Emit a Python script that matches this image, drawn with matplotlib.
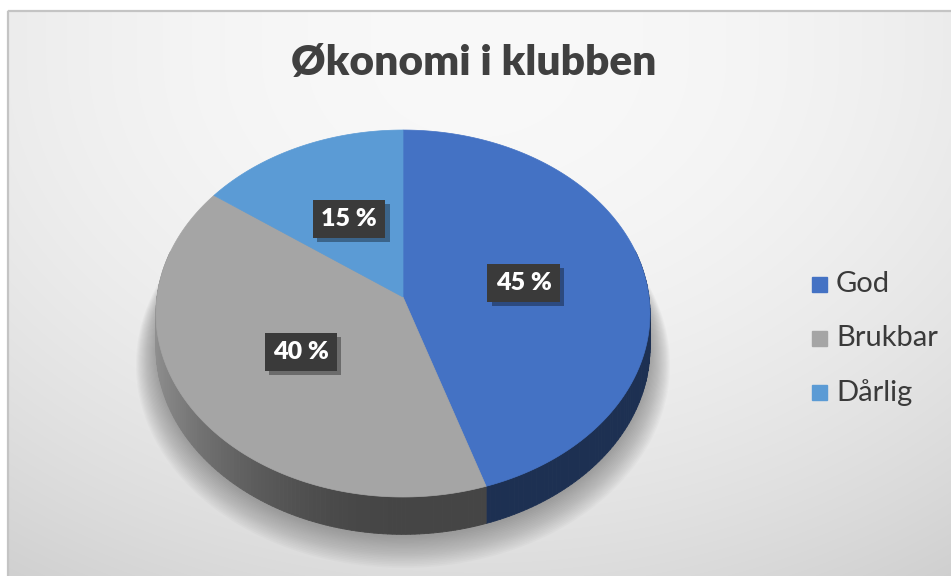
import numpy as np
import matplotlib
matplotlib.use('Agg')
import matplotlib.pyplot as plt
from matplotlib.patches import Rectangle
from matplotlib.collections import PolyCollection
import matplotlib.patheffects as pe
import matplotlib.colors as mcolors

# ---- data ----
categories = ['God', 'Brukbar', 'Dårlig']
values = [45, 40, 15]
labels = ['45 %', '40 %', '15 %']
colors = ['#4472C4', '#A5A5A5', '#5B9BD5']
title = 'Økonomi i klubben'

W, H = 951, 576
fig = plt.figure(figsize=(W / 100, H / 100), dpi=100)
ax = fig.add_axes([0, 0, 1, 1])

# ---- background gradient ----
yy, xx = np.mgrid[0:H, 0:W]
dx = (xx - 475) / 470.0
dyn = np.clip((yy - 60) / 516.0, 0, None)
val = 0.975 - 0.05 * dx ** 2 - 0.11 * dyn ** 2
img = np.dstack([val] * 3)
img[:10, :] = 1.0
img[:, :7] = 1.0
ax.imshow(img, extent=(0, W, H, 0), zorder=0, interpolation='bilinear', aspect='auto')
ax.plot([7.5, 7.5], [10.5, H], color='#c4c4c4', lw=1.6, zorder=1, solid_capstyle='butt')
ax.plot([7.5, W], [10.5, 10.5], color='#c4c4c4', lw=1.6, zorder=1, solid_capstyle='butt')

# ---- projection of the 3D pie ----
CX, CY, A, B, K, T = 403, 297, 246, 182, 0.09, 34


def proj(theta, r=1.0, drop=0.0):
    u = r * np.sin(theta)
    v = r * np.cos(theta)
    d = 1 + K * v
    return CX + A * u / d, CY - B * v / d + drop / d


fr = np.array(values, dtype=float) / sum(values)
edges = np.concatenate([[0], np.cumsum(fr)]) * 2 * np.pi

# shadow
th = np.linspace(0, 2 * np.pi, 400)
for s in np.linspace(0, 1, 20):
    x, y = proj(th, 1 + 0.08 * s, T + 2 + 12 * s)
    ax.fill(x, y, color='#666666', alpha=0.035, lw=0, zorder=1.5)


def shade(t):
    return 0.42 + 0.45 * np.clip(-np.sin(t), 0, 1) ** 2


polys, cols = [], []
for i in range(len(values)):
    ts = np.linspace(edges[i], edges[i + 1], 150)
    base = np.array(mcolors.to_rgb(colors[i]))
    for a0, a1 in zip(ts[:-1], ts[1:]):
        if np.cos((a0 + a1) / 2) > 0.25:
            continue
        x0, y0 = proj(a0)
        x1, y1 = proj(a1)
        x0b, y0b = proj(a0, drop=T)
        x1b, y1b = proj(a1, drop=T)
        polys.append([(x0, y0), (x1, y1), (x1b, y1b), (x0b, y0b)])
        cols.append(np.clip(base * shade((a0 + a1) / 2), 0, 1))
ax.add_collection(PolyCollection(polys, facecolors=cols, edgecolors=cols,
                                 linewidths=0.6, zorder=2))

# top face
for i in range(len(values)):
    ts = np.linspace(edges[i], edges[i + 1], 200)
    x, y = proj(ts)
    ax.fill(np.r_[CX, x], np.r_[CY, y], color=colors[i], ec=colors[i], lw=0.5, zorder=3)

# data labels
mids = (edges[:-1] + edges[1:]) / 2
for i in range(len(values)):
    x, y = proj(mids[i], 0.5)
    t = ax.text(x, y, labels[i], ha='center', va='center', fontsize=18,
                fontweight='heavy', color='white', family='Lato', zorder=6,
                bbox=dict(boxstyle='square,pad=0.33', fc='#3a3a3a', ec='none'))
    t.get_bbox_patch().set_path_effects([
        pe.SimplePatchShadow(offset=(3, -3), shadow_rgbFace='k', alpha=0.35), pe.Normal()])

# title
ax.text(474, 63, title, ha='center', va='center', fontsize=30.5, fontweight='heavy',
        color='#404040', family='Lato', zorder=6)

# legend
leg_y = [284.5, 338.5, 392.5]
for i in range(len(categories)):
    ax.add_patch(Rectangle((812, leg_y[i] - 7.5), 15, 15, color=colors[i], zorder=6))
    ax.text(836, leg_y[i], categories[i], ha='left', va='center', fontsize=21,
            color='#3a3a3a', family='Lato', zorder=6)

ax.set_xlim(0, W)
ax.set_ylim(H, 0)
ax.axis('off')
fig.savefig('out.png', dpi=100)
